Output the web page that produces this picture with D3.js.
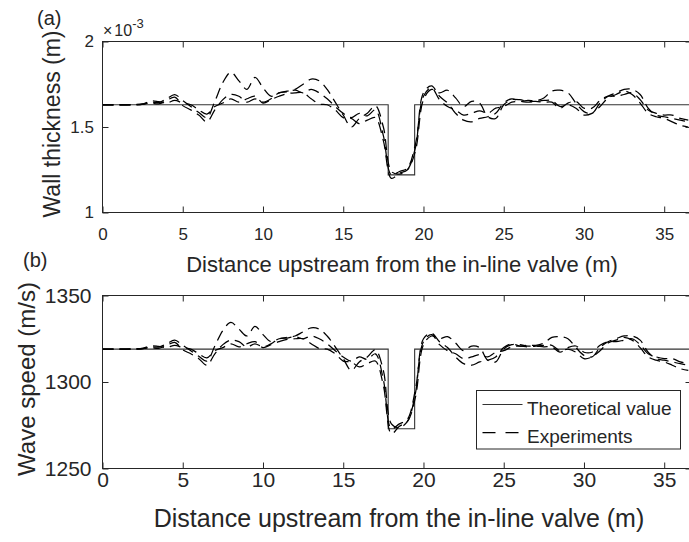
<!DOCTYPE html>
<html>
<head>
<meta charset="utf-8">
<script src="https://cdn.jsdelivr.net/npm/d3@7"></script>
<style>
  body { margin: 0; background: #fff; }
  svg { display: block; }
  text { font-family: "Liberation Sans", Arial, Helvetica, sans-serif; fill: #262626; }
</style>
</head>
<body>
<svg id="fig" width="689" height="542"></svg>
<script>
// Measurement stations along the pipe (m upstream of the in-line valve)
const distance = [0,0.5,1,1.5,2,2.5,3,3.5,4,4.5,5,5.5,6,6.5,7,7.5,8,8.5,9,9.5,10,10.5,11,11.5,12,12.5,13,13.5,14,14.5,15,15.5,16,16.5,17,17.5,18,18.5,19,19.5,20,20.5,21,21.5,22,22.5,23,23.5,24,24.5,25,25.5,26,26.5,27,27.5,28,28.5,29,29.5,30,30.5,31,31.5,32,32.5,33,33.5,34,34.5,35,35.5,36,36.5];

// Identified wall thickness for three experimental runs (x 10^-3 m)
const thicknessRun1 = [1.63,1.63,1.63,1.63,1.63,1.632,1.645,1.643,1.665,1.69,1.655,1.62,1.585,1.555,1.65,1.76,1.82,1.77,1.72,1.79,1.73,1.68,1.70,1.71,1.72,1.75,1.78,1.77,1.72,1.645,1.57,1.50,1.55,1.58,1.625,1.50,1.24,1.225,1.25,1.38,1.70,1.74,1.68,1.64,1.58,1.54,1.53,1.55,1.56,1.58,1.64,1.665,1.65,1.655,1.655,1.67,1.71,1.715,1.70,1.64,1.59,1.58,1.64,1.68,1.70,1.72,1.72,1.69,1.61,1.57,1.56,1.55,1.54,1.53];
const thicknessRun2 = [1.63,1.63,1.63,1.63,1.632,1.635,1.64,1.635,1.655,1.675,1.625,1.60,1.57,1.53,1.60,1.66,1.69,1.68,1.645,1.665,1.645,1.665,1.70,1.705,1.715,1.70,1.72,1.70,1.665,1.62,1.58,1.555,1.58,1.565,1.60,1.45,1.22,1.24,1.26,1.40,1.68,1.73,1.66,1.62,1.60,1.57,1.58,1.595,1.58,1.61,1.62,1.645,1.65,1.645,1.65,1.655,1.655,1.62,1.63,1.61,1.57,1.58,1.62,1.67,1.69,1.71,1.69,1.64,1.58,1.56,1.55,1.53,1.51,1.50];
const thicknessRun3 = [1.63,1.63,1.63,1.63,1.63,1.634,1.652,1.648,1.64,1.655,1.64,1.63,1.60,1.575,1.62,1.64,1.665,1.645,1.665,1.68,1.64,1.66,1.68,1.695,1.70,1.70,1.665,1.635,1.63,1.60,1.555,1.55,1.52,1.54,1.555,1.42,1.20,1.23,1.25,1.36,1.66,1.72,1.70,1.715,1.67,1.62,1.65,1.64,1.56,1.55,1.63,1.66,1.66,1.65,1.65,1.645,1.645,1.61,1.64,1.65,1.61,1.61,1.655,1.68,1.68,1.69,1.70,1.66,1.60,1.58,1.57,1.57,1.55,1.54];

// Identified wave speed for the same runs (m/s)
const speedRun1 = [1319.0,1319.0,1319.0,1319.0,1319.0,1319.2,1320.3,1320.2,1322.1,1324.2,1321.2,1318.1,1314.9,1312.1,1320.8,1329.8,1334.4,1330.6,1326.6,1332.1,1327.4,1323.3,1325.0,1325.8,1326.6,1329.0,1331.3,1330.6,1326.6,1320.3,1313.5,1306.7,1311.6,1314.5,1318.6,1306.7,1275.8,1273.7,1277.2,1293.6,1325.0,1328.2,1323.3,1319.9,1314.5,1310.6,1309.7,1311.6,1312.6,1314.5,1319.9,1322.1,1320.8,1321.2,1321.2,1322.5,1325.8,1326.2,1325.0,1319.9,1315.4,1314.5,1319.9,1323.3,1325.0,1326.6,1326.6,1324.2,1317.2,1313.5,1312.6,1311.6,1310.6,1309.7];
const speedRun2 = [1319.0,1319.0,1319.0,1319.0,1319.2,1319.4,1319.9,1319.4,1321.2,1322.9,1318.6,1316.3,1313.5,1309.7,1316.3,1321.6,1324.2,1323.3,1320.3,1322.1,1320.3,1322.1,1325.0,1325.4,1326.2,1325.0,1326.6,1325.0,1322.1,1318.1,1314.5,1312.1,1314.5,1313.1,1316.3,1301.4,1273.0,1275.8,1278.5,1295.9,1323.3,1327.4,1321.6,1318.1,1316.3,1313.5,1314.5,1315.9,1314.5,1317.2,1318.1,1320.3,1320.8,1320.3,1320.8,1321.2,1321.2,1318.1,1319.0,1317.2,1313.5,1314.5,1318.1,1322.5,1324.2,1325.8,1324.2,1319.9,1314.5,1312.6,1311.6,1309.7,1307.7,1306.7];
const speedRun3 = [1319.0,1319.0,1319.0,1319.0,1319.0,1319.4,1320.9,1320.6,1319.9,1321.2,1319.9,1319.0,1316.3,1314.0,1318.1,1319.9,1322.1,1320.3,1322.1,1323.3,1319.9,1321.6,1323.3,1324.6,1325.0,1325.0,1322.1,1319.4,1319.0,1316.3,1312.1,1311.6,1308.7,1310.6,1312.1,1298.1,1270.1,1274.4,1277.2,1291.2,1321.6,1326.6,1325.0,1326.2,1322.5,1318.1,1320.8,1319.9,1312.6,1311.6,1319.0,1321.6,1321.6,1320.8,1320.8,1320.3,1320.3,1317.2,1319.9,1320.8,1317.2,1317.2,1321.2,1323.3,1323.3,1324.2,1325.0,1321.6,1316.3,1314.5,1313.5,1313.5,1311.6,1310.6];

// Theoretical profile: breakpoints where the section changes (step-after)
const theoryDistance  = [0, 17.8, 19.45, 36.7];
const theoryThickness = [1.63, 1.22, 1.63, 1.63];
const theorySpeed     = [1319, 1273, 1319, 1319];

// Tick values
const xTicks = [0, 5, 10, 15, 20, 25, 30, 35];
const thicknessTicks = [1, 1.5, 2];
const speedTicks = [1250, 1300, 1350];

const legendLabels = ["Theoretical value", "Experiments"];

const svg = d3.select("#fig");
const plotLeft = 102.5, plotRight = 691.5;
const xDomain = [0, 36.7];
const INK = "#262626";

function drawPanel(o) {
  const x = d3.scaleLinear().domain(xDomain).range([plotLeft, plotRight]);
  const y = d3.scaleLinear().domain(o.yDomain).range([o.bottom, o.top]);
  const g = svg.append("g");

  g.append("clipPath").attr("id", o.id)
    .append("rect")
    .attr("x", plotLeft).attr("y", o.top)
    .attr("width", plotRight - plotLeft).attr("height", o.bottom - o.top);

  const plot = g.append("g").attr("clip-path", `url(#${o.id})`);

  const theoryLine = d3.line()
    .x(d => x(d[0])).y(d => y(d[1]))
    .curve(d3.curveStepAfter);
  plot.append("path")
    .datum(theoryDistance.map((d, i) => [d, o.theory[i]]))
    .attr("d", theoryLine)
    .attr("fill", "none").attr("stroke", "#333").attr("stroke-width", 1.1);

  const runLine = d3.line()
    .x(d => x(d[0])).y(d => y(d[1]))
    .curve(d3.curveCatmullRom.alpha(0.5));
  o.runs.forEach(vals => {
    plot.append("path")
      .datum(distance.map((d, i) => [d, vals[i]]))
      .attr("d", runLine)
      .attr("fill", "none").attr("stroke", "#000")
      .attr("stroke-width", 1.25).attr("stroke-dasharray", "11,6");
  });

  // axes with inward ticks
  const styleAxis = s => {
    s.select(".domain").remove();
    s.attr("font-family", null).attr("font-size", o.tickFont).style("color", INK);
    s.selectAll(".tick line").attr("stroke-width", 1);
  };
  g.append("g").attr("transform", `translate(0,${o.bottom})`)
    .call(d3.axisBottom(x).tickValues(xTicks).tickSize(-6).tickPadding(o.xPad))
    .call(styleAxis);
  g.append("g").attr("transform", `translate(0,${o.top})`)
    .call(d3.axisTop(x).tickValues(xTicks).tickSize(-6).tickFormat(""))
    .call(styleAxis);
  g.append("g").attr("transform", `translate(${plotLeft},0)`)
    .call(d3.axisLeft(y).tickValues(o.yTicks).tickSize(-6).tickPadding(o.yPad).tickFormat(o.yFormat))
    .call(styleAxis);
  g.append("g").attr("transform", `translate(${plotRight},0)`)
    .call(d3.axisRight(y).tickValues(o.yTicks).tickSize(-6).tickFormat(""))
    .call(styleAxis);

  g.append("rect")
    .attr("x", plotLeft).attr("y", o.top)
    .attr("width", plotRight - plotLeft).attr("height", o.bottom - o.top)
    .attr("fill", "none").attr("stroke", INK).attr("stroke-width", 1);

  // axis titles
  g.append("text")
    .attr("x", o.xLabelX).attr("y", o.xLabelY)
    .attr("text-anchor", "middle").attr("font-size", o.labelFont)
    .text("Distance upstream from the in-line valve (m)");
  g.append("text")
    .attr("transform", `translate(${o.yLabelX},${(o.top + o.bottom) / 2 - 3}) rotate(-90)`)
    .attr("text-anchor", "middle").attr("dy", "0.35em").attr("font-size", o.yLabelFont)
    .text(o.yLabel);
  g.append("text")
    .attr("x", o.tagX).attr("y", o.tagY).attr("font-size", 20)
    .text(o.tag);

  return { x, y, g };
}

// (a) wall thickness
const pa = drawPanel({
  id: "clipA", top: 41.5, bottom: 212.5,
  yDomain: [1, 2], yTicks: thicknessTicks, yFormat: d3.format(""),
  theory: theoryThickness, runs: [thicknessRun1, thicknessRun2, thicknessRun3],
  tickFont: 17, xPad: 15, yPad: 8.5,
  labelFont: 22, xLabelX: 402, xLabelY: 272,
  yLabel: "Wall thickness (m)", yLabelFont: 23, yLabelX: 52,
  tag: "(a)", tagX: 37, tagY: 25
});
// axis exponent
const expo = pa.g.append("text").attr("x", 103).attr("y", 36).attr("font-size", 16);
expo.append("tspan").text("\u00d7");
expo.append("tspan").attr("dx", 2).text("10");
expo.append("tspan").attr("dy", -8).attr("font-size", 13).text("-3");

// (b) wave speed
const pb = drawPanel({
  id: "clipB", top: 295.5, bottom: 468.5,
  yDomain: [1250, 1350], yTicks: speedTicks, yFormat: d3.format("d"),
  theory: theorySpeed, runs: [speedRun1, speedRun2, speedRun3],
  tickFont: 21, xPad: 4, yPad: 11,
  labelFont: 25, xLabelX: 399, xLabelY: 527,
  yLabel: "Wave speed (m/s)", yLabelFont: 24, yLabelX: 27,
  tag: "(b)", tagX: 23, tagY: 267
});

// legend
const lg = pb.g.append("g");
lg.append("rect").attr("x", 476.5).attr("y", 390.5).attr("width", 204).attr("height", 58.5)
  .attr("fill", "#fff").attr("stroke", INK).attr("stroke-width", 1);
const legendRows = [
  { y: 404.5, dash: null, stroke: "#333", w: 1.1 },
  { y: 432.5, dash: "13,10", stroke: "#000", w: 1.25 }
];
legendRows.forEach((r, i) => {
  lg.append("line").attr("x1", 482.5).attr("x2", 522.5).attr("y1", r.y).attr("y2", r.y)
    .attr("stroke", r.stroke).attr("stroke-width", r.w)
    .attr("stroke-dasharray", r.dash);
  lg.append("text").attr("x", 527).attr("y", r.y + 10).attr("font-size", 19)
    .text(legendLabels[i]);
});
</script>
</body>
</html>
